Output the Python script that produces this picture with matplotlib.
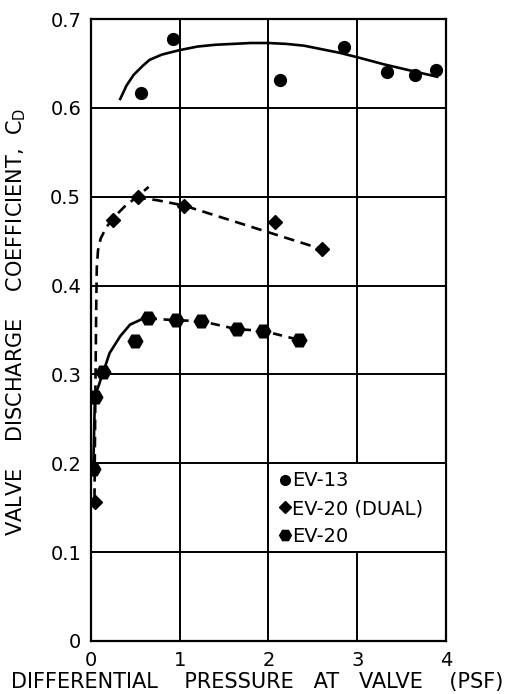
import matplotlib.pyplot as plt
from matplotlib.patches import Rectangle
from matplotlib.lines import Line2D

# Data
ev13_x = [0.56, 0.93, 2.13, 2.85, 3.34, 3.65, 3.89]
ev13_y = [0.617, 0.677, 0.631, 0.668, 0.640, 0.637, 0.643]

dual_x = [0.045, 0.25, 0.525, 1.05, 2.07, 2.60]
dual_y = [0.156, 0.474, 0.500, 0.490, 0.471, 0.441]

ev20_x = [0.026, 0.045, 0.14, 0.50, 0.64, 0.96, 1.24, 1.64, 1.94, 2.34]
ev20_y = [0.193, 0.275, 0.303, 0.338, 0.363, 0.361, 0.360, 0.351, 0.349, 0.339]

# faired curves as drawn on the chart
ev13_fit_x = [0.33, 0.40, 0.48, 0.58, 0.66, 0.80, 1.0, 1.2, 1.4, 1.6, 1.8, 2.0,
              2.2, 2.4, 2.6, 2.8, 3.0, 3.3, 3.6, 3.9]
ev13_fit_y = [0.610, 0.625, 0.637, 0.647, 0.654, 0.660, 0.665, 0.669, 0.671, 0.672,
              0.673, 0.673, 0.672, 0.670, 0.666, 0.662, 0.657, 0.649, 0.642, 0.635]

dual_up_x = [0.040, 0.045, 0.050, 0.055, 0.060, 0.066, 0.08, 0.11, 0.17, 0.25, 0.38, 0.52, 0.65]
dual_up_y = [0.160, 0.220, 0.280, 0.330, 0.380, 0.420, 0.440, 0.453, 0.465, 0.476, 0.489, 0.500, 0.511]
dual_down_x = [0.50, 0.60, 0.75, 0.90, 1.05, 2.60]
dual_down_y = [0.497, 0.498, 0.496, 0.493, 0.490, 0.441]

ev20_solid_x = [0.026, 0.045, 0.14, 0.21, 0.33, 0.44, 0.57, 0.64]
ev20_solid_y = [0.193, 0.275, 0.303, 0.324, 0.343, 0.356, 0.362, 0.363]
ev20_dash_x = [0.64, 0.96, 1.24, 1.64, 1.94, 2.34]
ev20_dash_y = [0.363, 0.361, 0.360, 0.351, 0.349, 0.339]

xticks = [0, 1, 2, 3, 4]
xlabels = ['0', '1', '2', '3', '4']
yticks = [0, 0.1, 0.2, 0.3, 0.4, 0.5, 0.6, 0.7]
ylabels = ['0', '0.1', '0.2', '0.3', '0.4', '0.5', '0.6', '0.7']

fig = plt.figure(figsize=(5.08, 6.94), dpi=100)
ax = fig.add_axes([0.179, 0.0764, 0.699, 0.8962])

ax.set_xlim(0, 4)
ax.set_ylim(0, 0.7)
ax.set_xticks(xticks)
ax.set_xticklabels(xlabels)
ax.set_yticks(yticks)
ax.set_yticklabels(ylabels)
ax.tick_params(length=0, labelsize=14, pad=7)
ax.grid(True, color='black', linewidth=1.4)
for s in ax.spines.values():
    s.set_linewidth(1.6)

lw = 1.9
ax.plot(ev13_fit_x, ev13_fit_y, color='black', lw=lw)
ax.plot(dual_up_x, dual_up_y, color='black', lw=lw, dashes=(4, 2.5))
ax.plot(dual_down_x, dual_down_y, color='black', lw=lw, dashes=(4, 2.5))
ax.plot(ev20_solid_x, ev20_solid_y, color='black', lw=lw)
ax.plot(ev20_dash_x, ev20_dash_y, color='black', lw=lw, dashes=(3.5, 2.5))

ax.plot(ev13_x, ev13_y, 'o', color='black', ms=8.5, zorder=5)
ax.plot(dual_x, dual_y, 'D', color='black', ms=7.5, zorder=5)
ax.plot(ev20_x, ev20_y, 'H', color='black', ms=10.5, zorder=5)

# legend box sits in the grid cell x 2..4, y 0.1..0.2
ax.add_patch(Rectangle((2, 0.1), 2, 0.1, facecolor='white', edgecolor='black',
                       lw=1.4, zorder=3))
handles = [Line2D([], [], ls='', marker='o', color='black', ms=7),
           Line2D([], [], ls='', marker='D', color='black', ms=6.5),
           Line2D([], [], ls='', marker='H', color='black', ms=8.5)]
leg = ax.legend(handles, ['EV-13', 'EV-20 (DUAL)', 'EV-20'], loc='center left',
                bbox_to_anchor=(2.12, 0.149), bbox_transform=ax.transData,
                frameon=False, fontsize=14, handlelength=0.6, handletextpad=0.05,
                labelspacing=0.45, borderpad=0, borderaxespad=0)
leg.set_zorder(6)

ax.set_xlabel('DIFFERENTIAL    PRESSURE   AT   VALVE    (PSF)', fontsize=15)
ax.set_ylabel('VALVE    DISCHARGE    COEFFICIENT,  C$_\\mathrm{D}$', fontsize=15)
ax.xaxis.set_label_coords(0.468, -0.05)
ax.yaxis.set_label_coords(-0.177, 0.513)
ax.xaxis.label.set_va('top')

fig.savefig('out.png', dpi=100)
